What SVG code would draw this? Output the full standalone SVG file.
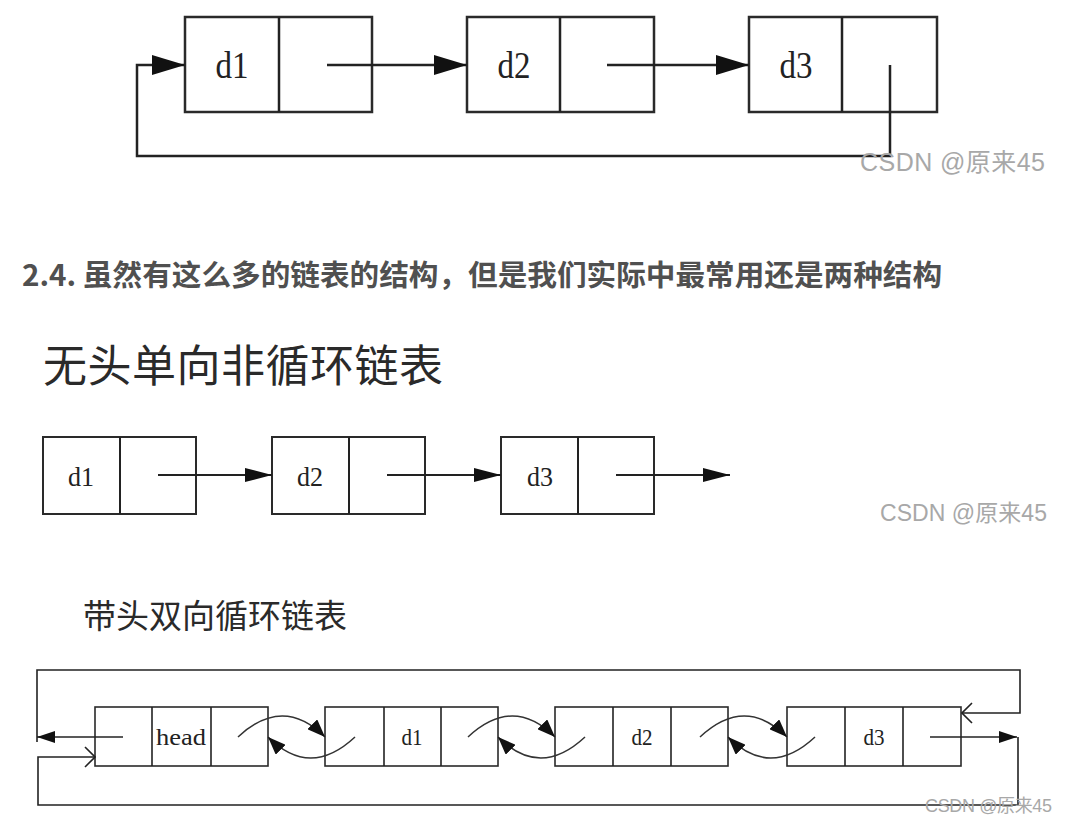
<svg xmlns="http://www.w3.org/2000/svg" width="1087" height="819" viewBox="0 0 1087 819">
<style>
.bg{fill:#fff}
.box{fill:#fff;stroke:#2a2a2a}
.t1 .box{stroke-width:2.5}
.t2 .box{stroke-width:2}
.t3 .box{stroke-width:1.6}
.lbl{font-family:"Liberation Serif",serif;fill:#222;text-anchor:middle}
.ln{fill:none;stroke:#222}
.curve{fill:none;stroke:#333;stroke-width:1.5}
.wm{font-family:"Liberation Sans","Noto Sans CJK SC",sans-serif;fill:#a8a8a8}
.cjk{font-family:"Noto Sans CJK SC",sans-serif}
</style>
<defs>
<marker id="aBig" markerUnits="userSpaceOnUse" viewBox="0 0 33 20" refX="33" refY="10" markerWidth="33" markerHeight="20" orient="auto"><path d="M0,0L33,10L0,20z" fill="#111"/></marker>
<marker id="aMid" markerUnits="userSpaceOnUse" viewBox="0 0 27 14" refX="27" refY="7" markerWidth="27" markerHeight="14" orient="auto"><path d="M0,0L27,7L0,14z" fill="#111"/></marker>
<marker id="aSm" markerUnits="userSpaceOnUse" viewBox="0 0 18 12" refX="18" refY="6" markerWidth="18" markerHeight="12" orient="auto"><path d="M0,0L18,6L0,12z" fill="#111"/></marker>
<marker id="aCv" markerUnits="userSpaceOnUse" viewBox="0 0 18 14" refX="18" refY="7" markerWidth="18" markerHeight="14" orient="auto"><path d="M0,0L18,7L0,14z" fill="#111"/></marker>
<marker id="chev" markerUnits="userSpaceOnUse" viewBox="0 0 12 22" refX="11" refY="11" markerWidth="12" markerHeight="22" orient="auto"><path d="M1,1L11,11L1,21" fill="none" stroke="#222" stroke-width="1.6"/></marker>
</defs>
<rect class="bg" x="0" y="0" width="1087" height="819"/>

<!-- Diagram 1: circular singly linked list -->
<g class="t1">
<g id="top-d1"><rect class="box" x="185" y="17" width="187" height="95"/><line class="ln" x1="279" y1="17" x2="279" y2="112" stroke-width="2.5"/><text class="lbl" x="232" y="78" font-size="38" textLength="33" lengthAdjust="spacingAndGlyphs">d1</text></g>
<g id="top-d2"><rect class="box" x="467" y="17" width="187" height="95"/><line class="ln" x1="560" y1="17" x2="560" y2="112" stroke-width="2.5"/><text class="lbl" x="514" y="78" font-size="38" textLength="33" lengthAdjust="spacingAndGlyphs">d2</text></g>
<g id="top-d3"><rect class="box" x="749" y="17" width="188" height="95"/><line class="ln" x1="842" y1="17" x2="842" y2="112" stroke-width="2.5"/><text class="lbl" x="796" y="78" font-size="38" textLength="33" lengthAdjust="spacingAndGlyphs">d3</text></g>
</g>
<g id="top-connectors" class="ln" stroke-width="2.5">
<line x1="327" y1="65" x2="467" y2="65" marker-end="url(#aBig)"/>
<line x1="607" y1="65" x2="749" y2="65" marker-end="url(#aBig)"/>
<path d="M890,65V156H137V65H185" marker-end="url(#aBig)"/>
</g>
<text class="wm" x="860" y="171" font-size="25" textLength="185">CSDN @原来45</text>

<!-- Heading -->
<text class="cjk" x="22" y="286" font-size="29" font-weight="bold" fill="#505050" textLength="920" lengthAdjust="spacingAndGlyphs">2.4. 虽然有这么多的链表的结构，但是我们实际中最常用还是两种结构</text>

<!-- Diagram 2 -->
<text class="cjk" x="43" y="382" font-size="44" fill="#2a2a2a" textLength="400">无头单向非循环链表</text>
<g class="t2">
<g id="mid-d1"><rect class="box" x="43" y="437" width="153" height="77"/><line class="ln" x1="120" y1="437" x2="120" y2="514" stroke-width="2"/><text class="lbl" x="81" y="486" font-size="27" textLength="26" lengthAdjust="spacingAndGlyphs">d1</text></g>
<g id="mid-d2"><rect class="box" x="272" y="437" width="153" height="77"/><line class="ln" x1="349" y1="437" x2="349" y2="514" stroke-width="2"/><text class="lbl" x="310" y="486" font-size="27" textLength="26" lengthAdjust="spacingAndGlyphs">d2</text></g>
<g id="mid-d3"><rect class="box" x="501" y="437" width="153" height="77"/><line class="ln" x1="578" y1="437" x2="578" y2="514" stroke-width="2"/><text class="lbl" x="540" y="486" font-size="27" textLength="26" lengthAdjust="spacingAndGlyphs">d3</text></g>
</g>
<g id="mid-connectors" class="ln" stroke-width="2">
<line x1="158" y1="475" x2="272" y2="475" marker-end="url(#aMid)"/>
<line x1="387" y1="475" x2="501" y2="475" marker-end="url(#aMid)"/>
<line x1="616" y1="475" x2="730" y2="475" marker-end="url(#aMid)"/>
</g>
<text class="wm" x="880" y="521" font-size="23" textLength="167">CSDN @原来45</text>

<!-- Diagram 3 -->
<text class="cjk" x="83" y="628" font-size="33" fill="#2a2a2a" textLength="264">带头双向循环链表</text>
<g class="t3">
<g id="bot-head"><rect class="box" x="95" y="707" width="173" height="59"/><path class="ln" d="M152,707V766M211,707V766" stroke-width="1.6"/><text class="lbl" x="181" y="745" font-size="24" textLength="50" lengthAdjust="spacingAndGlyphs">head</text></g>
<g id="bot-d1"><rect class="box" x="325" y="707" width="173" height="59"/><path class="ln" d="M384,707V766M441,707V766" stroke-width="1.6"/><text class="lbl" x="412" y="745" font-size="23" textLength="21" lengthAdjust="spacingAndGlyphs">d1</text></g>
<g id="bot-d2"><rect class="box" x="555" y="707" width="173" height="59"/><path class="ln" d="M613,707V766M671,707V766" stroke-width="1.6"/><text class="lbl" x="642" y="745" font-size="23" textLength="21" lengthAdjust="spacingAndGlyphs">d2</text></g>
<g id="bot-d3"><rect class="box" x="787" y="707" width="174" height="59"/><path class="ln" d="M845,707V766M903,707V766" stroke-width="1.6"/><text class="lbl" x="874" y="745" font-size="23" textLength="21" lengthAdjust="spacingAndGlyphs">d3</text></g>
</g>
<g id="bot-connectors">
<path class="ln" stroke-width="1.6" d="M37,742V670H1020V713H962" marker-end="url(#chev)"/>
<line class="ln" stroke-width="1.6" x1="123" y1="737" x2="37" y2="737" marker-end="url(#aSm)"/>
<line class="ln" stroke-width="1.6" x1="930" y1="737" x2="1017" y2="737" marker-end="url(#aSm)"/>
<path class="ln" stroke-width="1.6" d="M1018,737V805H38V757H95" marker-end="url(#chev)"/>
<path class="curve" d="M238,737Q283,695 325,737" marker-end="url(#aCv)"/>
<path class="curve" d="M355,737Q310,779 268,737" marker-end="url(#aCv)"/>
<path class="curve" d="M468,737Q513,695 555,737" marker-end="url(#aCv)"/>
<path class="curve" d="M585,737Q540,779 498,737" marker-end="url(#aCv)"/>
<path class="curve" d="M700,737Q745,695 787,737" marker-end="url(#aCv)"/>
<path class="curve" d="M815,737Q770,779 728,737" marker-end="url(#aCv)"/>
</g>
<text class="wm" x="925" y="812" font-size="18" textLength="127">CSDN @原来45</text>
</svg>
